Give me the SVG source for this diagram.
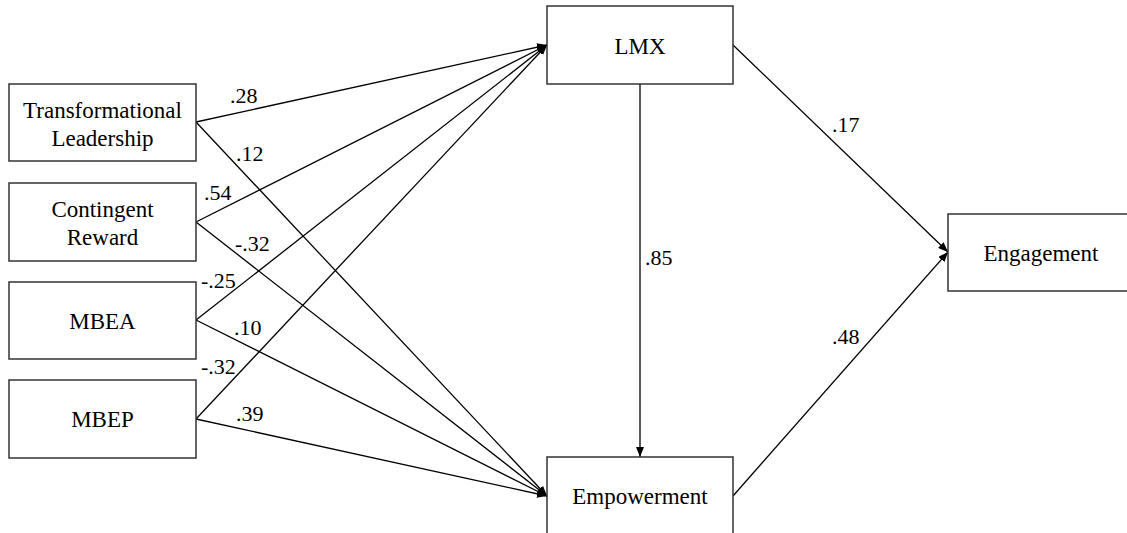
<svg xmlns="http://www.w3.org/2000/svg" width="1127" height="533" viewBox="0 0 1127 533">
<defs>
<marker id="ah" viewBox="0 0 10 8" refX="10" refY="4" markerWidth="10" markerHeight="8" markerUnits="userSpaceOnUse" orient="auto">
<path d="M0,0 L10,4 L0,8 Z" fill="#000"/>
</marker>
<style>
.box{fill:#fff;stroke:#333;stroke-width:1.5}
.nt{font-family:'Liberation Serif','Times New Roman',serif;font-size:23px;fill:#000;text-anchor:middle}
.lb{font-family:'Liberation Serif','Times New Roman',serif;font-size:22px;fill:#000}
.ln{stroke:#000;stroke-width:1.3;fill:none;marker-end:url(#ah)}
</style>
</defs>
<rect width="1127" height="533" fill="#fff"/>
<g id="connectors">
<line class="ln" x1="196" y1="122" x2="547" y2="45"/>
<line class="ln" x1="196" y1="222" x2="547" y2="45"/>
<line class="ln" x1="196" y1="320" x2="547" y2="45"/>
<line class="ln" x1="196" y1="419" x2="547" y2="45"/>
<line class="ln" x1="196" y1="122" x2="547" y2="496"/>
<line class="ln" x1="196" y1="222" x2="547" y2="496"/>
<line class="ln" x1="196" y1="320" x2="547" y2="496"/>
<line class="ln" x1="196" y1="419" x2="547" y2="496"/>
<line class="ln" x1="640" y1="84" x2="640" y2="457"/>
<line class="ln" x1="733" y1="45" x2="948" y2="252"/>
<line class="ln" x1="733" y1="496" x2="948" y2="252"/>
<text class="lb" x="230" y="103">.28</text>
<text class="lb" x="236" y="161">.12</text>
<text class="lb" x="204" y="200">.54</text>
<text class="lb" x="235" y="251">-.32</text>
<text class="lb" x="201" y="288">-.25</text>
<text class="lb" x="234" y="335">.10</text>
<text class="lb" x="201" y="374">-.32</text>
<text class="lb" x="236" y="421">.39</text>
<text class="lb" x="645" y="265">.85</text>
<text class="lb" x="832" y="132">.17</text>
<text class="lb" x="832" y="344">.48</text>
</g>
<g id="tl">
<rect class="box" x="9" y="84" width="187" height="77"/>
<text class="nt" x="102.5" y="118">Transformational</text>
<text class="nt" x="102.5" y="146">Leadership</text>
</g>
<g id="cr">
<rect class="box" x="9" y="183" width="187" height="78"/>
<text class="nt" x="102.5" y="217">Contingent</text>
<text class="nt" x="102.5" y="245">Reward</text>
</g>
<g id="mbea">
<rect class="box" x="9" y="282" width="187" height="77"/>
<text class="nt" x="102.5" y="329">MBEA</text>
</g>
<g id="mbep">
<rect class="box" x="9" y="380" width="187" height="78"/>
<text class="nt" x="102.5" y="427">MBEP</text>
</g>
<g id="lmx">
<rect class="box" x="547" y="6" width="186" height="78"/>
<text class="nt" x="640" y="54">LMX</text>
</g>
<g id="empowerment">
<rect class="box" x="547" y="457" width="186" height="85"/>
<text class="nt" x="640" y="504">Empowerment</text>
</g>
<g id="engagement">
<rect class="box" x="948" y="214" width="180" height="77"/>
<text class="nt" x="1041" y="261">Engagement</text>
</g>
</svg>
